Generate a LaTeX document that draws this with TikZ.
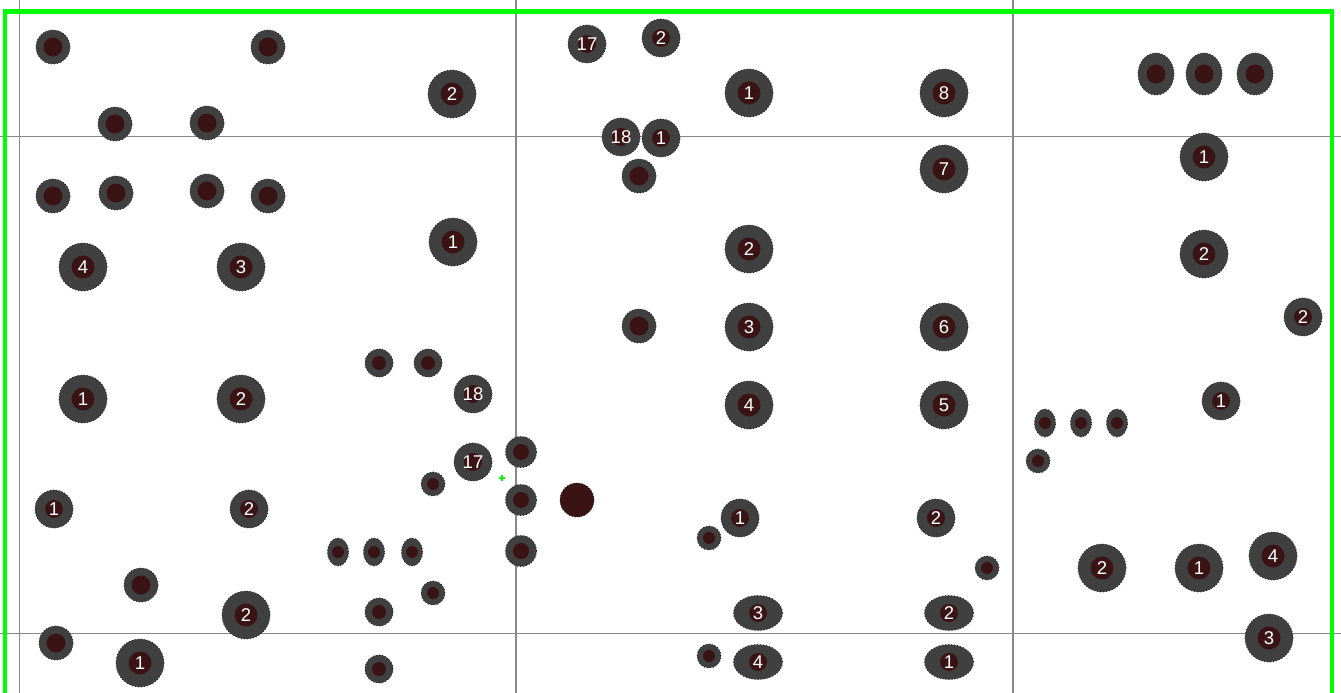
\documentclass[tikz,border=0pt]{standalone}
\usepackage{fontspec}
\setmainfont{Liberation Sans}
\usetikzlibrary{shapes.geometric}
\definecolor{padgray}{HTML}{404040}
\definecolor{padred}{HTML}{3A1414}
\definecolor{padtick}{HTML}{262626}
\definecolor{gridgray}{HTML}{888888}
\definecolor{brdgreen}{HTML}{00FF00}
\newcommand{\padfont}{\fontsize{18.5}{18.5}\selectfont}
\tikzset{
  padbase/.style={circle, fill=padgray, draw=padtick, line width=0.8pt,
    dash pattern=on 1pt off 2pt, inner sep=0pt, text=white, font=\padfont},
  holer/.style={path picture={\fill[padred] (path picture bounding box.center) circle[radius=#1];}},
  padA/.style={padbase, minimum size=48pt, holer=11.5pt},
  padB/.style={padbase, minimum size=38pt, holer=9pt},
  padC/.style={padbase, minimum size=34pt, holer=9.5pt},
  padF/.style={padbase, minimum size=31pt, holer=8pt},
  padD/.style={padbase, minimum size=28pt, holer=7pt},
  padE/.style={padbase, minimum size=24pt, holer=6pt},
  ellbase/.style={padbase, ellipse},
  ellH/.style={ellbase, minimum width=49pt, minimum height=35pt, holer=9pt},
  ellV/.style={ellbase, minimum width=21pt, minimum height=28pt, holer=6pt},
  ellT/.style={ellbase, minimum width=36pt, minimum height=42pt, holer=9.5pt},
  reddisk/.style={circle, fill=padred, draw=padtick, line width=0.8pt,
    dash pattern=on 1pt off 2pt, inner sep=0pt, minimum size=34pt},
  gridline/.style={gridgray, line width=1.4pt},
  boardline/.style={brdgreen, line width=4.5pt, line join=miter}
}
\begin{document}
\begin{tikzpicture}[x=1pt, y=-1pt]
\useasboundingbox (0,0) rectangle (1341,693);
\fill[white] (0,0) rectangle (1341,693);
% grid lines
\draw[gridline] (19.5,0) -- (19.5,693);
\draw[gridline] (516,0) -- (516,693);
\draw[gridline] (1013,0) -- (1013,693);
\draw[gridline] (0,136.5) -- (1341,136.5);
\draw[gridline] (0,633.5) -- (1341,633.5);
% board outline
\draw[boardline] (5,693) -- (5,11.7) -- (1332,11.7) -- (1332,693);
% green marker
\draw[brdgreen, line width=1.2pt] (499,478) -- (505,478) (502,475) -- (502,481);
% left region
\node[padC] (p1) at (53,47) {};
\node[padC] (p2) at (268,47) {};
\node[padC] (p3) at (115,124) {};
\node[padC] (p4) at (207,123) {};
\node[padA] (p5) at (452,94) {2};
\node[padC] (p6) at (53,196) {};
\node[padC] (p7) at (116,193) {};
\node[padC] (p8) at (207,191) {};
\node[padC] (p9) at (268,196) {};
\node[padA] (p10) at (453,242) {1};
\node[padA] (p11) at (83,267) {4};
\node[padA] (p12) at (241,267) {3};
\node[padA] (p13) at (83,399) {1};
\node[padA] (p14) at (241,399) {2};
\node[padD] (p15) at (379,363) {};
\node[padD] (p16) at (428,363) {};
\node[padB] (p17) at (473,394) {18};
\node[padB] (p18) at (473,462) {17};
\node[padF] (p19) at (521,452) {};
\node[padF] (p20) at (521,500) {};
\node[reddisk] (p21) at (577,500) {};
\node[padF] (p22) at (521,551) {};
\node[padE] (p23) at (433,484) {};
\node[padB] (p24) at (54,509) {1};
\node[padB] (p25) at (249,509) {2};
\node[ellV] (p26) at (338,552) {};
\node[ellV] (p27) at (374,552) {};
\node[ellV] (p28) at (412,552) {};
\node[padC] (p29) at (141,585) {};
\node[padE] (p30) at (433,593) {};
\node[padD] (p31) at (379,612) {};
\node[padA] (p32) at (246,615) {2};
\node[padC] (p33) at (56,643) {};
\node[padA] (p34) at (140,663) {1};
\node[padD] (p35) at (379,669) {};
% middle region
\node[padB] (p36) at (587,44) {17};
\node[padB] (p37) at (661,38) {2};
\node[padA] (p38) at (749,93) {1};
\node[padA] (p39) at (944,93) {8};
\node[padB] (p40) at (621,137) {18};
\node[padB] (p41) at (661,138) {1};
\node[padC] (p42) at (639,176) {};
\node[padA] (p43) at (944,169) {7};
\node[padA] (p44) at (749,249) {2};
\node[padC] (p45) at (639,326) {};
\node[padA] (p46) at (749,327) {3};
\node[padA] (p47) at (944,327) {6};
\node[padA] (p48) at (749,405) {4};
\node[padA] (p49) at (944,405) {5};
\node[padB] (p50) at (740,518) {1};
\node[padE] (p51) at (709,538) {};
\node[padB] (p52) at (936,518) {2};
\node[padE] (p53) at (987,568) {};
\node[ellH] (p54) at (758,613) {3};
\node[ellH] (p55) at (949,613) {2};
\node[padE] (p56) at (709,656) {};
\node[ellH] (p57) at (758,662) {4};
\node[ellH] (p58) at (949,662) {1};
% right region
\node[ellT] (p59) at (1156,74) {};
\node[ellT] (p60) at (1204,74) {};
\node[ellT] (p61) at (1255,74) {};
\node[padA] (p62) at (1204,157) {1};
\node[padA] (p63) at (1204,254) {2};
\node[padB] (p64) at (1303,317) {2};
\node[padB] (p65) at (1221,401) {1};
\node[ellV] (p66) at (1045,423) {};
\node[ellV] (p67) at (1081,423) {};
\node[ellV] (p68) at (1117,423) {};
\node[padE] (p69) at (1038,461) {};
\node[padA] (p70) at (1102,568) {2};
\node[padA] (p71) at (1199,568) {1};
\node[padA] (p72) at (1273,556) {4};
\node[padA] (p73) at (1269,638) {3};
\end{tikzpicture}
\end{document}
